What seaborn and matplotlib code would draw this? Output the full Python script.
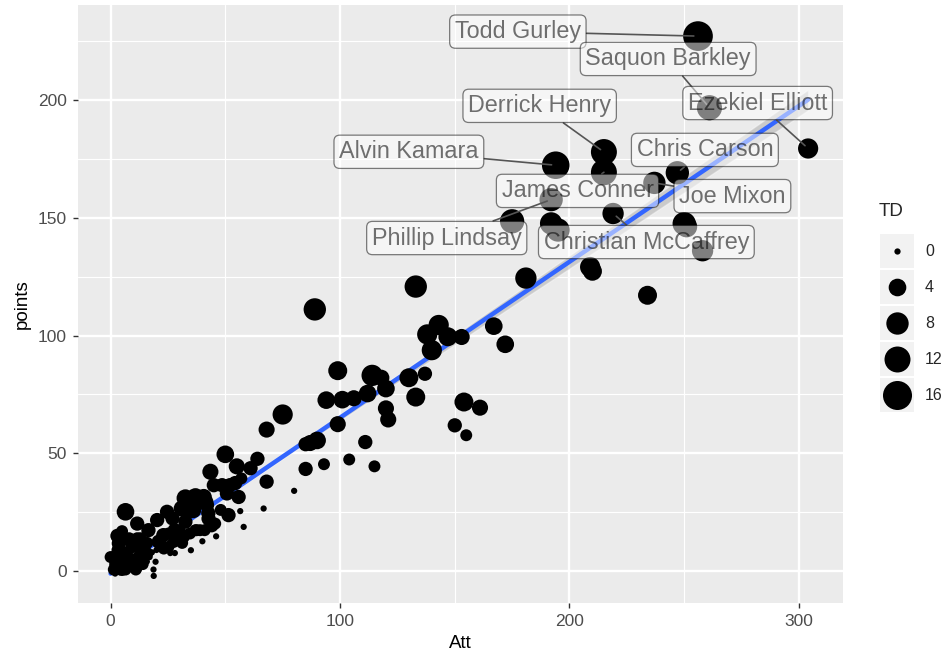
import numpy as np
import pandas as pd
import matplotlib
matplotlib.use("Agg")
import matplotlib.pyplot as plt
import seaborn as sns
from matplotlib.patches import Rectangle

# labelled players (first ten rows of the data below)
label_players = ["Todd Gurley", "Saquon Barkley", "Ezekiel Elliott", "Derrick Henry",
                 "Alvin Kamara", "Chris Carson", "James Conner", "Joe Mixon",
                 "Phillip Lindsay", "Christian McCaffrey"]
# where each label box sits (data units)
label_att = [177.5, 243, 282, 187, 130, 259, 203.5, 271, 146.5, 233.5]
label_points = [229, 217.4, 198.7, 197.5, 178, 178.8, 161.4, 159.2, 141.4, 139.7]

# rushing attempts, fantasy points, rushing TD
att = [256, 261, 304, 215, 194, 247, 215, 237, 192, 219,
       175, 192, 195, 250, 251, 258, 209, 210, 181, 234,
       133, 89, 167, 143, 138, 147, 153, 172, 140, 99,
       137, 114, 118, 130, 120, 112, 133, 133, 106, 101,
       156, 154, 161, 120, 75, 121, 99, 150, 68, 155,
       90, 90, 111, 87, 85, 50, 64, 104, 93, 115,
       85, 55, 94, 80, 43.5, 45, 68, 52, 50.7, 55.8,
       61, 57, 66.7, 56.5, 51.4, 58, 36, 33, 40.6, 42,
       24.6, 42.7, 39, 45.6, 46, 40, 35, 30.4, 27.5, 23.2,
       32.6, 27, 20.3, 22.5, 29, 31.2, 26, 28, 19.6, 18.8,
       18.7, 15.2, 16.5, 11.6, 6.5, 3.6, 8, 1.4, 4.3, 2.9,
       8, 12.3, 10.7, 12.2, 15.8, 25.2, 29.6, 25.2, 34.6, 37.5,
       41, 32.4, 1, 1.3, 5, 3, 6, 9, 14, 48,
       2, 4, 6, 8, 10, 3, 5, 12, 14, 7,
       1, 9, 11, 3, 5, 13, 16, 23, 21, 28,
       32, 37, 32.6, 37, 41.3, 31, 36, 42.6, 44, 48.6,
       54.3, 13.8, 16, 11.6, 0, 1.4, 6.5, 11, 5.5, 9.5,
       1, 2, 1, 3, 2, 4, 6, 5, 7, 8,
       10, 3, 4, 12, 15, 17, 18, 20, 22, 24,
       1, 2, 3, 1, 5, 6, 9, 11, 13, 14]
points = [227.1, 196.7, 179.4, 177.9, 172.3, 169.1, 169.3, 164.8, 157.7, 151.8,
          148.5, 147.6, 144.8, 147.5, 146.2, 136.0, 129.1, 127.3, 124.4, 117.1,
          120.8, 111.1, 104.0, 104.5, 100.5, 99.5, 99.4, 96.3, 93.8, 85.1,
          83.8, 83.1, 82.1, 82.1, 77.5, 75.4, 73.9, 73.5, 73.4, 72.8,
          72.2, 71.8, 69.4, 69.1, 66.5, 64.4, 62.4, 61.9, 60.1, 57.7,
          55.6, 55.5, 54.8, 54.4, 53.9, 49.6, 47.7, 47.4, 45.4, 44.5,
          43.4, 44.5, 72.6, 34.1, 42.2, 36.5, 38, 36.5, 33, 31.5,
          43.7, 39.4, 26.6, 25.5, 23.8, 18.8, 29.4, 26.6, 31.5, 28,
          25.2, 22.3, 17.4, 20.2, 14.8, 12.7, 8.9, 16.7, 12.4, 9.6,
          21, 22.4, 21.7, 14.6, 14.6, 12, 7.7, 7.7, 4, -2,
          0.7, 8.4, 17.4, 20.2, 25.2, 11.8, 13.5, 6.1, 3.4, 0.7,
          0.7, 0.7, 4.9, 9.8, 4.1, 16, 16, 10.3, 16, 17.4,
          17.4, 27.3, 2, 0, 1.5, 5, 7, 4, 2, 26,
          3, 6, 2, 5, 2, 9, 0.5, 6, 3, 8,
          1, 10, 12, 15, 17, 14, 12, 15.3, 12.5, 17.4,
          14.6, 17.4, 31, 31.5, 29.4, 26.6, 25.9, 24.6, 19.5, 36.5,
          37.4, 8.9, 7.5, 14, 6, 0.7, 0.7, 0.7, 4.5, 3.8,
          0.5, 1.2, 2, 0, -1, 1, 0.4, 2.5, 3, 1.8,
          1, 4, -0.5, 3.5, 5, 6, 8, 9, 10, 11,
          -0.3, 0.2, 1.5, 3, 1, 5, 6.5, 5, 7, 9.5]
td = [17, 11, 6, 12, 14, 9, 12, 8, 9, 7,
      10, 8, 9, 9, 7, 7, 6, 5, 7, 5,
      8, 8, 4, 6, 6, 5, 3, 4, 6, 5,
      2, 7, 3, 5, 4, 4, 5, 2, 3, 4,
      0, 5, 3, 3, 6, 3, 3, 2, 3, 1,
      3, 4, 2, 3, 2, 4, 2, 1, 1, 1,
      2, 3, 4, 0, 3, 2, 2, 2, 2, 2,
      2, 1, 0, 0, 2, 0, 3, 3, 3, 2,
      2, 2, 1, 1, 0, 0, 0, 1, 1, 1,
      2, 2, 2, 1, 1, 1, 0, 0, 0, 0,
      0, 1, 2, 2, 4, 2, 2, 1, 0, 0,
      0, 0, 0, 1, 0, 1, 1, 1, 1, 1,
      1, 3, 0, 0, 0, 0, 1, 0, 0, 1,
      1, 1, 1, 1, 1, 1, 1, 1, 1, 1,
      0, 1, 1, 2, 1, 1, 1, 2, 2, 2,
      1, 1, 4, 4, 3, 3, 3, 2, 2, 2,
      2, 1, 1, 1, 1, 1, 1, 1, 1, 1,
      0, 0, 0, 0, 0, 0, 0, 0, 0, 0,
      0, 0, 0, 0, 0, 0, 0, 0, 0, 0,
      0, 0, 0, 0, 0, 0, 0, 0, 0, 0]

legend_td = [0, 4, 8, 12, 16]

df = pd.DataFrame({"Att": att, "points": points, "TD": td})


def td_area(v):
    # ggplot-like size scale: sqrt(TD) -> diameter
    size_mm = 1 + 5 * np.sqrt(v / 17)
    dia_px = 1.65 * (size_mm * 2.845 + 0.945)
    return (dia_px * 0.72) ** 2


sns.set_theme(style="darkgrid")
plt.rcParams["font.family"] = ["Liberation Sans", "DejaVu Sans"]

fig = plt.figure(figsize=(9.5, 6.56), dpi=100)
ax = fig.add_axes([78 / 950, 1 - 603 / 656, (843 - 78) / 950, (603 - 5) / 656])
ax.set_facecolor("#EBEBEB")

# the many hidden near-zero players are not all typed in, so a narrower band
# stands in for the reference's tight ribbon
sns.regplot(data=df, x="Att", y="points", scatter=False, ci=50, seed=1,
            color="#3366FF", line_kws={"lw": 3.2, "zorder": 2}, ax=ax)
for coll in ax.collections:
    coll.set_facecolor("#999999")
    coll.set_alpha(0.4)
    coll.set_zorder(1)

sizes = {v: td_area(v) for v in sorted(set(td))}
sns.scatterplot(data=df, x="Att", y="points", size="TD", sizes=sizes,
                color="black", linewidth=0, legend=False, ax=ax, zorder=3)

for name, x, y, lx, ly in zip(label_players, att, points, label_att, label_points):
    ax.annotate(name, xy=(x, y), xytext=(lx, ly), ha="center", va="center",
                fontsize=16.8, color=(0, 0, 0, 0.55), zorder=6,
                bbox=dict(boxstyle="round,pad=0.22,rounding_size=0.25",
                          fc=(1, 1, 1, 0.5), ec=(0, 0, 0, 0.5), lw=0.9),
                arrowprops=dict(arrowstyle="-", color="#555555", lw=1.2,
                                shrinkA=0, shrinkB=3))

ax.set_xlim(-14.2, 319.2)
ax.set_ylim(-13.5, 240.3)
ax.set_xticks([0, 100, 200, 300])
ax.set_xticks([50, 150, 250], minor=True)
ax.set_yticks([0, 50, 100, 150, 200])
ax.set_yticks([25, 75, 125, 175, 225], minor=True)
ax.grid(which="major", color="white", lw=1.7)
ax.grid(which="minor", color="white", lw=0.85)
ax.set_axisbelow(True)
for s in ax.spines.values():
    s.set_visible(False)
ax.tick_params(which="major", length=3.6, width=1.0, color="#333333",
               labelcolor="#4D4D4D", labelsize=12.5, pad=4.3, bottom=True, left=True)
ax.tick_params(which="minor", length=0)
ax.set_xlabel("Att", fontsize=13.5, color="black", labelpad=4)
ax.set_ylabel("points", fontsize=13.5, color="black", labelpad=5)

# legend drawn by hand in pixel units, ggplot style
leg = fig.add_axes([0, 0, 1, 1], facecolor="none")
leg.set_xlim(0, 950)
leg.set_ylim(656, 0)
leg.axis("off")
leg.text(879, 211, "TD", fontsize=13.5, ha="left", va="center")
for i, v in enumerate(legend_td):
    cy = 251 + i * 36
    leg.add_patch(Rectangle((880, cy - 17), 34, 34, fc="#F2F2F2", ec="none"))
    leg.scatter([897], [cy], s=td_area(v), color="black", linewidths=0)
    leg.text(925, cy, str(v), fontsize=11.5, ha="left", va="center")

fig.savefig("out.png", dpi=100)
